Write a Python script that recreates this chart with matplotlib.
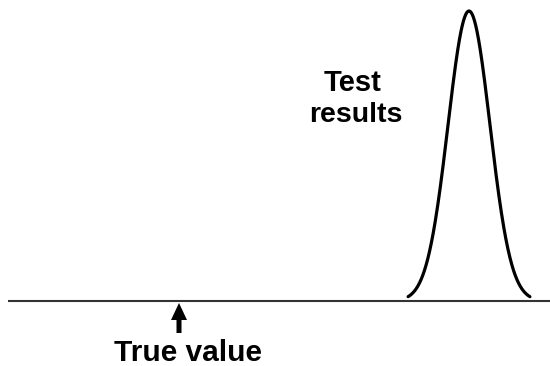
import numpy as np
from matplotlib import pyplot as plt

# scale runs left to right, values in arbitrary units
scale_start, scale_end = 8, 550
true_value = 179
results_mean = 469
results_sd = 21
results_span = 2.9      # curve drawn out to +/- this many sd
peak_height = 290
baseline = 301

fig = plt.figure(figsize=(5.5, 3.66), dpi=100)
ax = fig.add_axes([0, 0, 1, 1])
ax.set_xlim(0, 550)
ax.set_ylim(366, 0)
ax.axis('off')

# horizontal scale
ax.plot([scale_start, scale_end], [baseline, baseline], color='#333333', lw=1.5,
        solid_capstyle='butt')

# distribution of test results
x = np.linspace(results_mean - results_span * results_sd,
                results_mean + results_span * results_sd, 300)
h = peak_height * np.exp(-0.5 * ((x - results_mean) / results_sd) ** 2)
ax.plot(x, baseline - h, color='black', lw=2.3, solid_capstyle='round')

# arrow pointing at the true value
ax.arrow(true_value, 333, 0, -30, width=5, head_width=16, head_length=17,
         length_includes_head=True, color='black', lw=0)

font = ['Liberation Sans', 'DejaVu Sans']
ax.text(188, 361, 'True value', family=font, fontweight='bold', fontsize=21.5,
        ha='center', va='baseline')
ax.text(353, 91, 'Test', family=font, fontweight='bold', fontsize=21,
        ha='center', va='baseline')
ax.text(356, 122, 'results', family=font, fontweight='bold', fontsize=20.5,
        ha='center', va='baseline')

fig.savefig('out.png', dpi=100)
